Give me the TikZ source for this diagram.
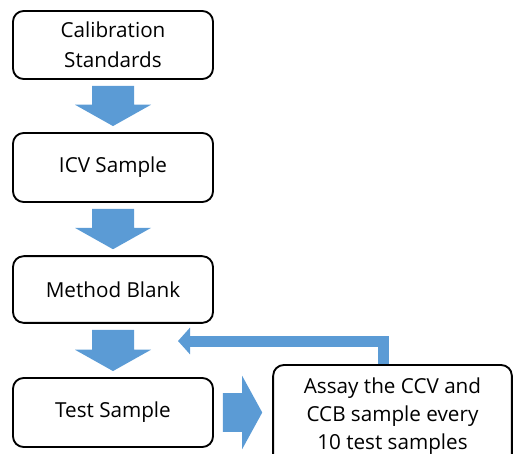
\documentclass[tikz,border=0pt]{standalone}
\usepackage{fontspec}
\setmainfont{Open Sans}
\usetikzlibrary{calc,arrows.meta}
\definecolor{flowblue}{HTML}{5B9BD5}

% block arrow pointing down, from the bottom of #1 to the top of #2
\newcommand\downblock[2]{%
  \fill[flowblue] let \p1=($(#1.south)+(0,6)$), \p2=($(#2.north)+(0,-6)$) in
    (\x1-15.75pt,\y1) -- (\x1+15.75pt,\y1) -- (\x1+15.75pt,\y2+16pt)
    -- (\x1+28.5pt,\y2+16pt) -- (\x1,\y2) -- (\x1-28.5pt,\y2+16pt)
    -- (\x1-15.75pt,\y2+16pt) -- cycle;}

% block arrow pointing right, from the right side of #1 to the left side of #2
\newcommand\rightblock[2]{%
  \fill[flowblue] let \p1=($(#1.east)+(9,0)$), \p2=($(#2.west)+(-10,0)$) in
    (\x1,\y1+14.6pt) -- (\x2-15pt,\y1+14.6pt) -- (\x2-15pt,\y1+27.4pt)
    -- (\x2,\y1) -- (\x2-15pt,\y1-27.4pt) -- (\x2-15pt,\y1-14.6pt)
    -- (\x1,\y1-14.6pt) -- cycle;}

\begin{document}
\begin{tikzpicture}[x=0.75pt,y=-0.75pt,
  stage/.style={draw=black, line width=1.4pt, rounded corners=8pt,
    minimum width=150pt, align=center, inner sep=0pt,
    font=\fontsize{15.5}{22.5}\selectfont},
  loop/.style={draw=flowblue, line width=8.25pt,
    -{Triangle[length=9pt,width=19.5pt]}}]
\useasboundingbox (0,0) rectangle (515,454);

\node[stage, minimum height=51pt]   (cal)   at (113,45)    {Calibration\\Standards};
\node[stage, minimum height=51.75pt] (icv)  at (113,167.5) {ICV Sample};
\node[stage, minimum height=50pt]   (mb)    at (113,289.5) {Method Blank};
\node[stage, minimum height=51.75pt] (ts)   at (113,412.5) {Test Sample};
% the last box runs on past the lower edge of the page
\node[stage, minimum width=179pt, minimum height=76.5pt,
      font=\fontsize{15.5}{21}\selectfont] (assay) at (392.5,416)
      {Assay the CCV and\\CCB sample every\\10 test samples};

\downblock{cal}{icv}
\downblock{icv}{mb}
\downblock{mb}{ts}
\rightblock{ts}{assay}

\coordinate (loopend) at (178,341);
\draw[loop] ([xshift=-6.75pt]assay.north) |- (loopend);
\end{tikzpicture}
\end{document}
